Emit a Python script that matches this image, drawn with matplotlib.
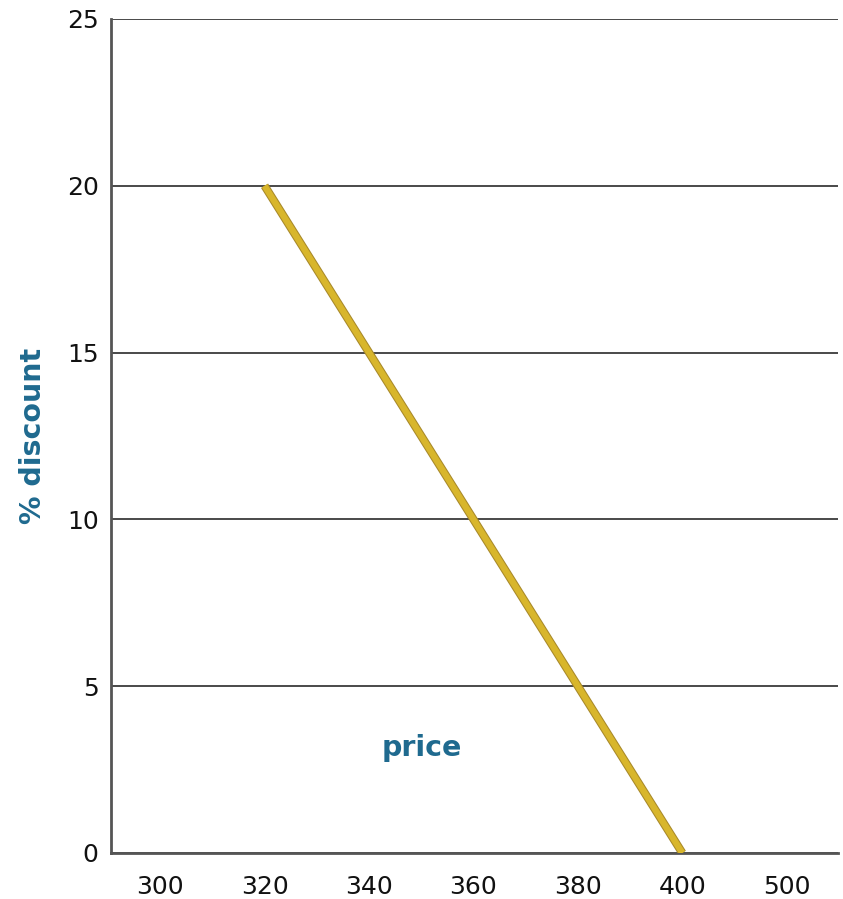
import matplotlib
matplotlib.use("Agg")
import matplotlib.pyplot as plt
import matplotlib.patheffects as pe

categories = ["300", "320", "340", "360", "380", "400", "500"]
line_cats = ["320", "340", "360", "380", "400"]
discount = [20, 15, 10, 5, 0]
yticks = [0, 5, 10, 15, 20, 25]

fig = plt.figure(figsize=(8.43, 8.99), dpi=100)
ax = fig.add_axes([0.1317, 0.0512, 0.8623, 0.9277])

xpos = [categories.index(c) for c in line_cats]
ax.plot(xpos, discount, color="#d8b62c", linewidth=4.5, solid_capstyle="butt", zorder=3,
        path_effects=[pe.Stroke(linewidth=6, foreground="#a8892a"), pe.Normal()])

ax.set_xticks(range(len(categories)))
ax.set_xticklabels(categories)
ax.set_xlim(-0.47, 6.49)
ax.set_ylim(0, 25)
ax.set_yticks(yticks)
ax.set_yticklabels([str(v) for v in yticks])
ax.tick_params(length=0, labelsize=18, colors="#111111")
ax.tick_params(axis="y", pad=9)
ax.tick_params(axis="x", pad=16)
ax.grid(axis="y", color="#2a2a2a", linewidth=1.2)
ax.set_axisbelow(True)
for s in ["top", "right"]:
    ax.spines[s].set_visible(False)
for s in ["left", "bottom"]:
    ax.spines[s].set_color("#555555")
    ax.spines[s].set_linewidth(2)

ax.set_xlabel("price", fontsize=20.5, fontweight="bold", color="#1f6a8f", va="center", ha="center")
ax.xaxis.set_label_coords(0.428, 0.126)
ax.set_ylabel("% discount", fontsize=20.5, fontweight="bold", color="#1f6a8f", va="center", ha="center")
ax.yaxis.set_label_coords(-0.107, 0.5)

fig.savefig("out.png", dpi=100)
